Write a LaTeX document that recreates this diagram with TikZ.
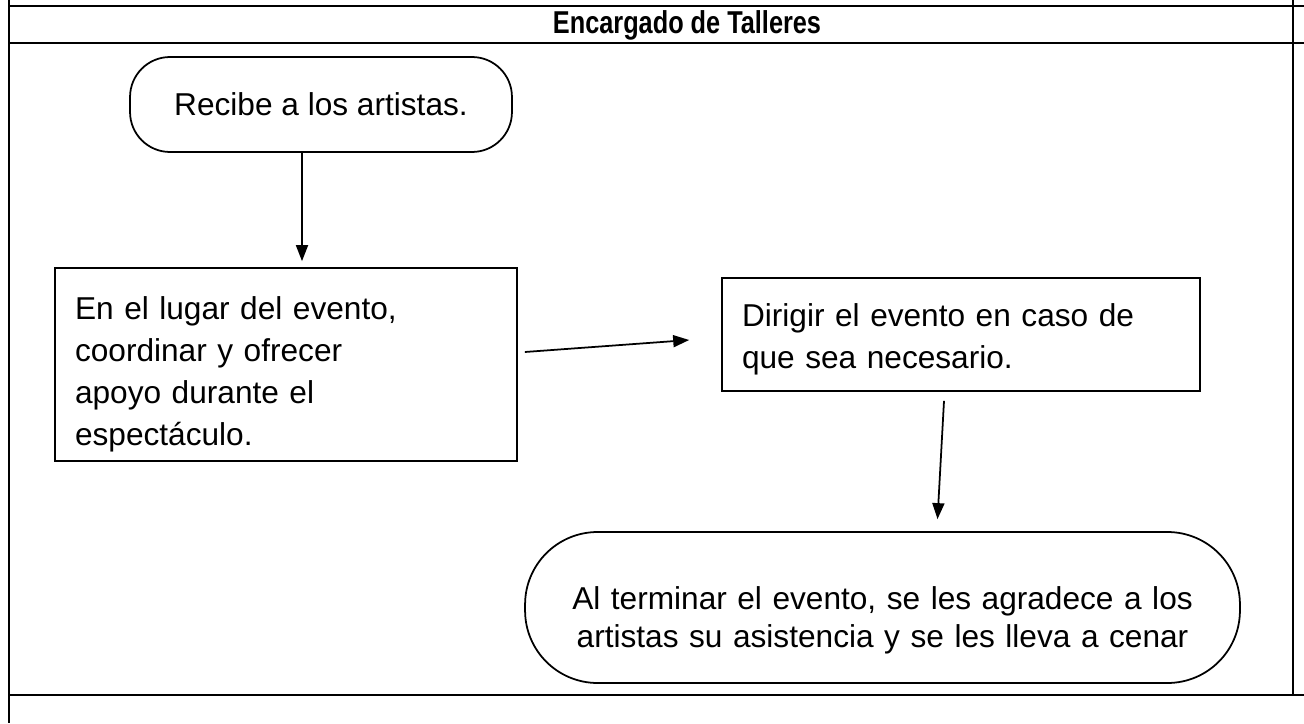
\documentclass[tikz,border=0pt]{standalone}
\usepackage{fontspec}
\setmainfont{Liberation Sans}
\usetikzlibrary{arrows.meta}

\begin{document}
\begin{tikzpicture}[
  x=0.02cm, y=-0.02cm,
  frame/.style={line width=1.2pt},
  terminal/.style={draw, line width=1pt, align=center, font=\fontsize{18}{21.5}\selectfont},
  box/.style={draw, line width=1pt, align=left, inner xsep=0.4cm, font=\fontsize{18}{24}\selectfont},
  lower/.style={text height=#1},
  arrow/.style={-{Triangle[length=0.32cm, width=0.24cm]}, line width=1pt}
]
  \useasboundingbox (0,0) rectangle (1304,723);
  % frame of the sheet
  \draw[frame] (9,6) -- (1304,6);
  \draw[frame] (9,43) -- (1304,43);
  \draw[frame] (9,695) -- (1304,695);
  \draw[frame] (9,0) -- (9,723);
  \draw[frame] (1293,0) -- (1293,695);
  \node[anchor=base, inner sep=1pt, xscale=0.8, font=\fontsize{18}{22}\selectfont\bfseries] (encabezado) at (687,34) {Encargado de Talleres};

  \node[terminal, rounded corners=0.8cm, minimum width=7.64cm, minimum height=1.9cm] (recibe) at (321,104.5) {Recibe a los artistas.};
  \node[box, lower=24.5pt, text width=8.44cm, minimum height=3.86cm] (lugar) at (286,364.5) {En el lugar del evento,\\ coordinar y ofrecer\\ apoyo durante el\\ espectáculo.};
  \node[box, lower=18.7pt, text width=8.76cm, minimum height=2.26cm] (dirigir) at (961,334.5) {Dirigir el evento en caso de\\ que sea necesario.};
  \node[terminal, lower=27.7pt, text width=12.6cm, rounded corners=1.45cm, minimum width=14.3cm, minimum height=3.02cm] (terminar) at (882.5,607.5) {Al terminar el evento, se les agradece a los\\ artistas su asistencia y se les lleva a cenar};

  \draw[arrow] ([xshift=-0.38cm]recibe.south) -- ([xshift=-0.38cm, yshift=0.12cm]recibe.south |- lugar.north);
  \draw[arrow] ([xshift=0.14cm, yshift=0.25cm]lugar.east) -- ([xshift=-0.64cm, yshift=-0.11cm]dirigir.west);
  \draw[arrow] ([xshift=-0.34cm, yshift=-0.18cm]dirigir.south) -- ([xshift=1.1cm, yshift=0.24cm]terminar.north);
\end{tikzpicture}
\end{document}
